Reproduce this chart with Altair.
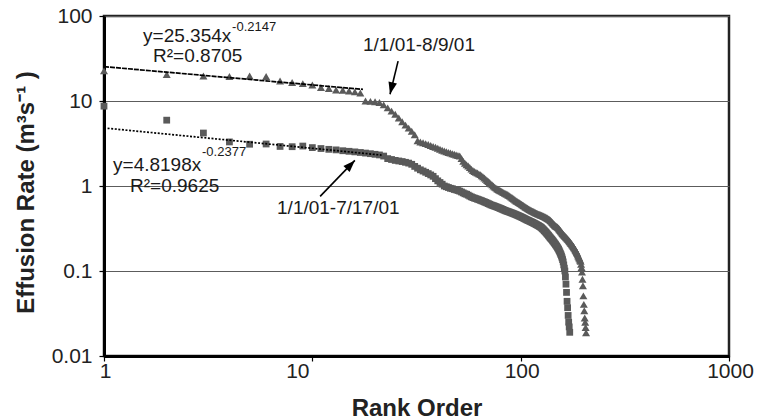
import altair as alt
import pandas as pd

# ---------------- data ----------------
# Series 1/1/01-8/9/01 (triangles), rate in m3/s, ranked 1..N
tri_rate = [
    22.6, 20.5, 19.7, 19.4, 19.7, 19.4, 17.2, 16.5, 16.0, 15.4,
    14.4, 14.0, 13.5, 13.4, 13.1, 12.8, 12.4, 10.0, 9.9, 9.8,
    9.6, 9.0, 8.3, 7.6, 7.0, 6.3, 5.7, 5.2, 4.8, 4.4,
    4.0, 3.4, 3.3, 3.22, 3.15, 3.08, 3.0, 2.92, 2.85, 2.78,
    2.7, 2.64, 2.58, 2.53, 2.48, 2.44, 2.4, 2.36, 2.32, 2.29,
    2.25, 2.1, 1.95, 1.85, 1.78, 1.72, 1.65, 1.58, 1.52, 1.48,
    1.45, 1.42, 1.39, 1.36, 1.32, 1.28, 1.24, 1.2, 1.16, 1.13,
    1.1, 1.06, 1.03, 1.0, 0.97, 0.95, 0.93, 0.91, 0.89, 0.88,
    0.865, 0.85, 0.835, 0.82, 0.81, 0.8, 0.785, 0.77, 0.755, 0.74,
    0.727, 0.714, 0.7, 0.686, 0.672, 0.66, 0.65, 0.64, 0.63, 0.62,
    0.61, 0.6, 0.59, 0.58, 0.57, 0.562, 0.554, 0.546, 0.538, 0.53,
    0.524, 0.518, 0.512, 0.506, 0.5, 0.495, 0.49, 0.485, 0.48, 0.475,
    0.47, 0.467, 0.464, 0.46, 0.456, 0.452, 0.448, 0.444, 0.44, 0.436,
    0.432, 0.428, 0.424, 0.42, 0.415, 0.41, 0.405, 0.4, 0.393, 0.386,
    0.379, 0.372, 0.365, 0.358, 0.352, 0.346, 0.34, 0.336, 0.333, 0.33,
    0.324, 0.318, 0.312, 0.306, 0.3, 0.294, 0.288, 0.282, 0.276, 0.27,
    0.266, 0.262, 0.258, 0.254, 0.25, 0.246, 0.242, 0.238, 0.234, 0.23,
    0.226, 0.222, 0.218, 0.214, 0.21, 0.206, 0.202, 0.198, 0.194, 0.19,
    0.186, 0.182, 0.178, 0.174, 0.17, 0.165, 0.16, 0.155, 0.15, 0.146,
    0.142, 0.138, 0.134, 0.13, 0.12, 0.11, 0.097, 0.08, 0.067, 0.051,
    0.0405, 0.034, 0.028, 0.025, 0.0216, 0.0188,
]
# Series 1/1/01-7/17/01 (squares)
sq_rate = [
    8.7, 5.95, 4.2, 3.3, 3.1, 3.12, 2.92, 2.9, 2.95, 2.83,
    2.76, 2.7, 2.66, 2.6, 2.56, 2.52, 2.48, 2.44, 2.4, 2.36,
    2.32, 2.25, 2.1, 2.05, 2.0, 1.97, 1.94, 1.9, 1.86, 1.8,
    1.7, 1.62, 1.55, 1.5, 1.45, 1.4, 1.35, 1.3, 1.22, 1.15,
    1.1, 1.05, 1.0, 0.98, 0.96, 0.94, 0.93, 0.91, 0.9, 0.885,
    0.87, 0.85, 0.83, 0.81, 0.8, 0.78, 0.76, 0.745, 0.73, 0.72,
    0.71, 0.7, 0.69, 0.68, 0.67, 0.66, 0.65, 0.64, 0.63, 0.62,
    0.61, 0.6, 0.593, 0.586, 0.579, 0.572, 0.565, 0.558, 0.551, 0.544,
    0.537, 0.53, 0.523, 0.516, 0.51, 0.505, 0.5, 0.495, 0.49, 0.485,
    0.48, 0.475, 0.47, 0.465, 0.46, 0.455, 0.45, 0.445, 0.44, 0.435,
    0.43, 0.425, 0.42, 0.415, 0.41, 0.405, 0.4, 0.396, 0.392, 0.388,
    0.384, 0.38, 0.376, 0.372, 0.368, 0.364, 0.36, 0.356, 0.352, 0.348,
    0.344, 0.34, 0.336, 0.332, 0.327, 0.322, 0.316, 0.31, 0.304, 0.298,
    0.292, 0.286, 0.28, 0.274, 0.268, 0.262, 0.256, 0.25, 0.245, 0.24,
    0.235, 0.23, 0.225, 0.22, 0.215, 0.21, 0.205, 0.2, 0.195, 0.19,
    0.185, 0.18, 0.174, 0.168, 0.162, 0.156, 0.15, 0.143, 0.136, 0.128,
    0.118, 0.108, 0.1, 0.085, 0.07, 0.056, 0.044, 0.037, 0.03, 0.025,
    0.022, 0.019,
]
tri_rank = list(range(1, len(tri_rate) + 1))
sq_rank = list(range(1, len(sq_rate) + 1))

# power-law trend lines (end points)
trend_up_x = [1, 17.5]
trend_up_y = [25.35, 13.7]
trend_lo_x = [1, 21.5]
trend_lo_y = [4.82, 2.31]

# arrows: tail -> head in data coordinates
arrow_x = [25.8, 10.9]
arrow_y = [29.5, 0.756]
arrow_x2 = [23.6, 16.0]
arrow_y2 = [12.0, 2.0]
arrow_angle = [193, 44]

# annotation texts
ann_text = ["y=25.354x", "-0.2147", "R\u00b2=0.8705", "1/1/01-8/9/01",
            "y=4.8198x", "-0.2377", "R\u00b2=0.9625", "1/1/01-7/17/01"]
ann_x = [1.54, 4.12, 1.72, 17.5, 1.105, 2.955, 1.333, 6.77]
ann_y = [49.0, 66.0, 28.5, 38.4, 1.489, 2.24, 0.843, 0.465]
ann_size = [19, 13, 19, 19, 19, 13, 19, 19]

# ---------------- tables ----------------
pts_tri = pd.DataFrame({"x": tri_rank, "y": tri_rate})
pts_sq = pd.DataFrame({"x": sq_rank, "y": sq_rate})
trend_up = pd.DataFrame({"x": trend_up_x, "y": trend_up_y})
trend_lo = pd.DataFrame({"x": trend_lo_x, "y": trend_lo_y})
arrows = pd.DataFrame({"x": arrow_x, "y": arrow_y, "x2": arrow_x2,
                       "y2": arrow_y2, "ang": arrow_angle})
ann = pd.DataFrame({"x": ann_x, "y": ann_y, "t": ann_text, "fs": ann_size})

FONT = "Liberation Sans, Arial, Helvetica, sans-serif"
MARK = "#5a5a5a"

xscale = alt.Scale(type="log", domain=[1, 1000])
yscale = alt.Scale(type="log", domain=[0.01, 100])

x_enc = alt.X(
    "x:Q", scale=xscale,
    axis=alt.Axis(
        title="Rank Order", values=[1, 10, 100, 1000], format="~g",
        grid=False, labelFontSize=21, labelFont=FONT, labelColor="#222",
        labelBaseline="alphabetic", labelPadding=16, labelFlush=False,
        labelOffset={"condition": {"test": "datum.value == 10", "value": -15}, "value": 1},
        tickSize=5, tickColor="#000", tickWidth=1.2,
        domainColor="#000", domainWidth=3,
        titleFont=FONT, titleFontSize=24, titleFontWeight="bold",
        titleColor="#222", titleBaseline="alphabetic", titleY=59,
    ),
)
y_enc = alt.Y(
    "y:Q", scale=yscale,
    axis=alt.Axis(
        title="Effusion Rate (m\u00b3s\u207b\u00b9 )",
        values=[0.01, 0.1, 1, 10, 100], format="~g",
        grid=True, gridColor="#5c5c5c", gridWidth=1.2,
        labelFontSize=21, labelFont=FONT, labelColor="#222", labelPadding=7,
        tickSize=5, tickColor="#000", tickWidth=1.2,
        domainColor="#000", domainWidth=3,
        titleFont=FONT, titleFontSize=24, titleFontWeight="bold",
        titleColor="#222", titleAngle=270, titleBaseline="alphabetic",
        titleAlign="center", titleX=-71, titleY=176,
    ),
)

tri = alt.Chart(pts_tri).mark_point(
    shape="triangle-up", filled=True, size=64, color=MARK, opacity=1
).encode(x=x_enc, y=y_enc)

sq = alt.Chart(pts_sq).mark_point(
    shape="square", filled=True, size=46, color=MARK, opacity=1
).encode(x="x:Q", y="y:Q")

line_up = alt.Chart(trend_up).mark_line(
    color="#000", strokeWidth=1.7, strokeDash=[5, 1]
).encode(x="x:Q", y="y:Q")
line_lo = alt.Chart(trend_lo).mark_line(
    color="#000", strokeWidth=1.7, strokeDash=[2, 1.6]
).encode(x="x:Q", y="y:Q")

shafts = alt.Chart(arrows).mark_rule(color="#000", strokeWidth=1.6).encode(
    x="x:Q", y="y:Q", x2="x2:Q", y2="y2:Q"
)
heads = alt.Chart(arrows).mark_point(
    shape="M0,0L0.36,1L-0.36,1Z", filled=True, size=576, color="#000", opacity=1
).encode(x="x2:Q", y="y2:Q", angle=alt.Angle("ang:Q", scale=None))

labels = alt.Chart(ann).mark_text(
    align="left", baseline="alphabetic", font=FONT, color="#1a1a1a"
).encode(x="x:Q", y="y:Q", text="t:N", size=alt.Size("fs:Q", scale=None))

chart = alt.layer(tri, sq, line_up, line_lo, shafts, heads, labels).properties(
    width=625, height=340,
    autosize=alt.AutoSizeParams(type="none"),
    padding={"left": 104, "top": 16, "right": 37, "bottom": 64},
    background="white",
).configure_view(stroke="#222", strokeWidth=2.5)

chart.save("out.html", embed_options={"renderer": "svg", "actions": False})
